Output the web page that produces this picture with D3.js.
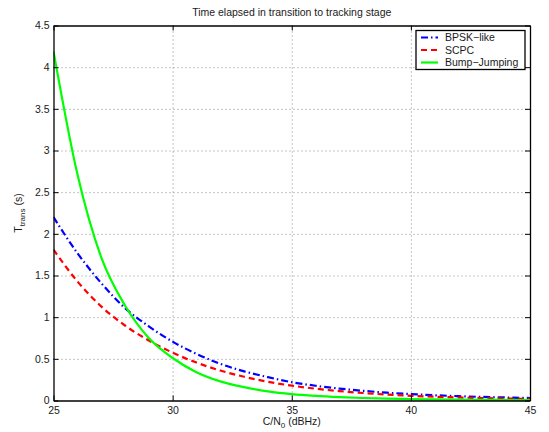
<!DOCTYPE html>
<html><head><meta charset="utf-8">
<script src="https://cdn.jsdelivr.net/npm/d3@7"></script>
<style>
body{margin:0;background:#fff;}
svg{display:block;font-family:"Liberation Sans",Arial,Helvetica,sans-serif;}
</style></head>
<body><svg id="c" width="549" height="432"></svg>
<script>
const cn0 = [25,26,27,28,29,30,31,32,33,34,35,36,37,38,39,40,41,42,43,44,45];
const bpsk = [2.2,1.77,1.41,1.11,0.89,0.706,0.56,0.44,0.35,0.28,0.22,0.177,0.143,0.116,0.094,0.077,0.063,0.052,0.043,0.036,0.03];
const scpc = [1.81,1.43,1.13,0.9,0.72,0.574,0.455,0.36,0.285,0.225,0.178,0.142,0.113,0.09,0.071,0.056,0.045,0.036,0.029,0.023,0.019];
const bump = [4.19,2.72,1.72,1.14,0.75,0.51,0.34,0.23,0.16,0.11,0.077,0.056,0.041,0.03,0.022,0.017,0.013,0.01,0.008,0.006,0.005];
const seriesNames = ["BPSK\u2212like","SCPC","Bump\u2212Jumping"];
const xTicks = [25,30,35,40,45];
const yTicks = [0,0.5,1,1.5,2,2.5,3,3.5,4,4.5];
const titleText = "Time elapsed in transition to tracking stage";

const L=53.5, R=530, T=25.5, B=400.5;
const svg = d3.select("#c");
const x = d3.scaleLinear().domain([25,45]).range([L,R]);
const y = d3.scaleLinear().domain([0,4.5]).range([B,T]);

// grid
const gx = svg.append("g").attr("transform",`translate(0,${B})`)
  .call(d3.axisBottom(x).tickValues(xTicks.slice(1,-1)).tickSize(-(B-T)).tickFormat(""));
const gy = svg.append("g").attr("transform",`translate(${L},0)`)
  .call(d3.axisLeft(y).tickValues(yTicks.slice(1,-1)).tickSize(-(R-L)).tickFormat(""));
[gx,gy].forEach(g=>{g.select(".domain").remove();
  g.selectAll("line").attr("stroke","#8a8a8a").attr("stroke-width",1).attr("stroke-dasharray","1,3");});

// curves
const series = [
 {v:bpsk,color:"#0000ff",dash:"7,3,1.5,3"},
 {v:scpc,color:"#ff0000",dash:"6,4"},
 {v:bump,color:"#00ff00",dash:null}
];
const line = d3.line().x((d,i)=>x(cn0[i])).y(d=>y(d)).curve(d3.curveMonotoneX);
svg.append("clipPath").attr("id","clp").append("rect").attr("x",L).attr("y",T).attr("width",R-L).attr("height",B-T+1);
series.forEach(s=>{
  svg.append("path").datum(s.v).attr("d",line).attr("fill","none")
   .attr("stroke",s.color).attr("stroke-width",2.2)
   .attr("stroke-dasharray",s.dash).attr("clip-path","url(#clp)");
});

// axes
const fmt = d3.format("~g");
const ax = svg.append("g").attr("transform",`translate(0,${B})`)
  .call(d3.axisBottom(x).tickValues(xTicks).tickSizeInner(-5).tickSizeOuter(0).tickPadding(6).tickFormat(fmt));
const ay = svg.append("g").attr("transform",`translate(${L},0)`)
  .call(d3.axisLeft(y).tickValues(yTicks).tickSizeInner(-5).tickSizeOuter(0).tickPadding(4).tickFormat(fmt));
const axT = svg.append("g").attr("transform",`translate(0,${T})`)
  .call(d3.axisTop(x).tickValues(xTicks).tickSizeInner(-5).tickSizeOuter(0).tickFormat(""));
const ayR = svg.append("g").attr("transform",`translate(${R},0)`)
  .call(d3.axisRight(y).tickValues(yTicks).tickSizeInner(-5).tickSizeOuter(0).tickFormat(""));
[ax,ay,axT,ayR].forEach(g=>{
  g.select(".domain").attr("stroke","#000").attr("stroke-width",1.3);
  g.selectAll("line").attr("stroke","#000").attr("stroke-width",1);
  g.selectAll("text").attr("font-family","Liberation Sans, Arial, sans-serif").attr("font-size",10.5).attr("fill","#1a1a1a");
});

// title
svg.append("text").attr("x",(L+R)/2).attr("y",16).attr("text-anchor","middle")
  .attr("font-size",10.5).attr("fill","#1a1a1a").text(titleText);

// x label
const xl = svg.append("text").attr("x",(L+R)/2).attr("y",425).attr("text-anchor","middle")
  .attr("font-size",10.5).attr("fill","#1a1a1a");
xl.append("tspan").text("C/N");
xl.append("tspan").attr("font-size",8).attr("dy",3).text("0");
xl.append("tspan").attr("dy",-3).text(" (dBHz)");

// y label
const yl = svg.append("text").attr("transform",`translate(22,${(T+B)/2}) rotate(-90)`).attr("text-anchor","middle")
  .attr("font-size",10.5).attr("fill","#1a1a1a");
yl.append("tspan").text("T");
yl.append("tspan").attr("font-size",8).attr("dy",3).text("trans");
yl.append("tspan").attr("dy",-3).text(" (s)");

// legend
const lg = svg.append("g");
lg.append("rect").attr("x",416).attr("y",30.5).attr("width",109).attr("height",39)
  .attr("fill","#fff").attr("stroke","#000").attr("stroke-width",1.3);
const rowsY=[37.5,50,62.5];
series.forEach((s,i)=>{
  lg.append("line").attr("x1",421).attr("x2",438).attr("y1",rowsY[i]).attr("y2",rowsY[i])
    .attr("stroke",s.color).attr("stroke-width",2.2).attr("stroke-dasharray",s.dash);
  lg.append("text").attr("x",445).attr("y",rowsY[i]+3.8).attr("font-size",10.5).attr("fill","#1a1a1a").text(seriesNames[i]);
});
</script></body></html>
